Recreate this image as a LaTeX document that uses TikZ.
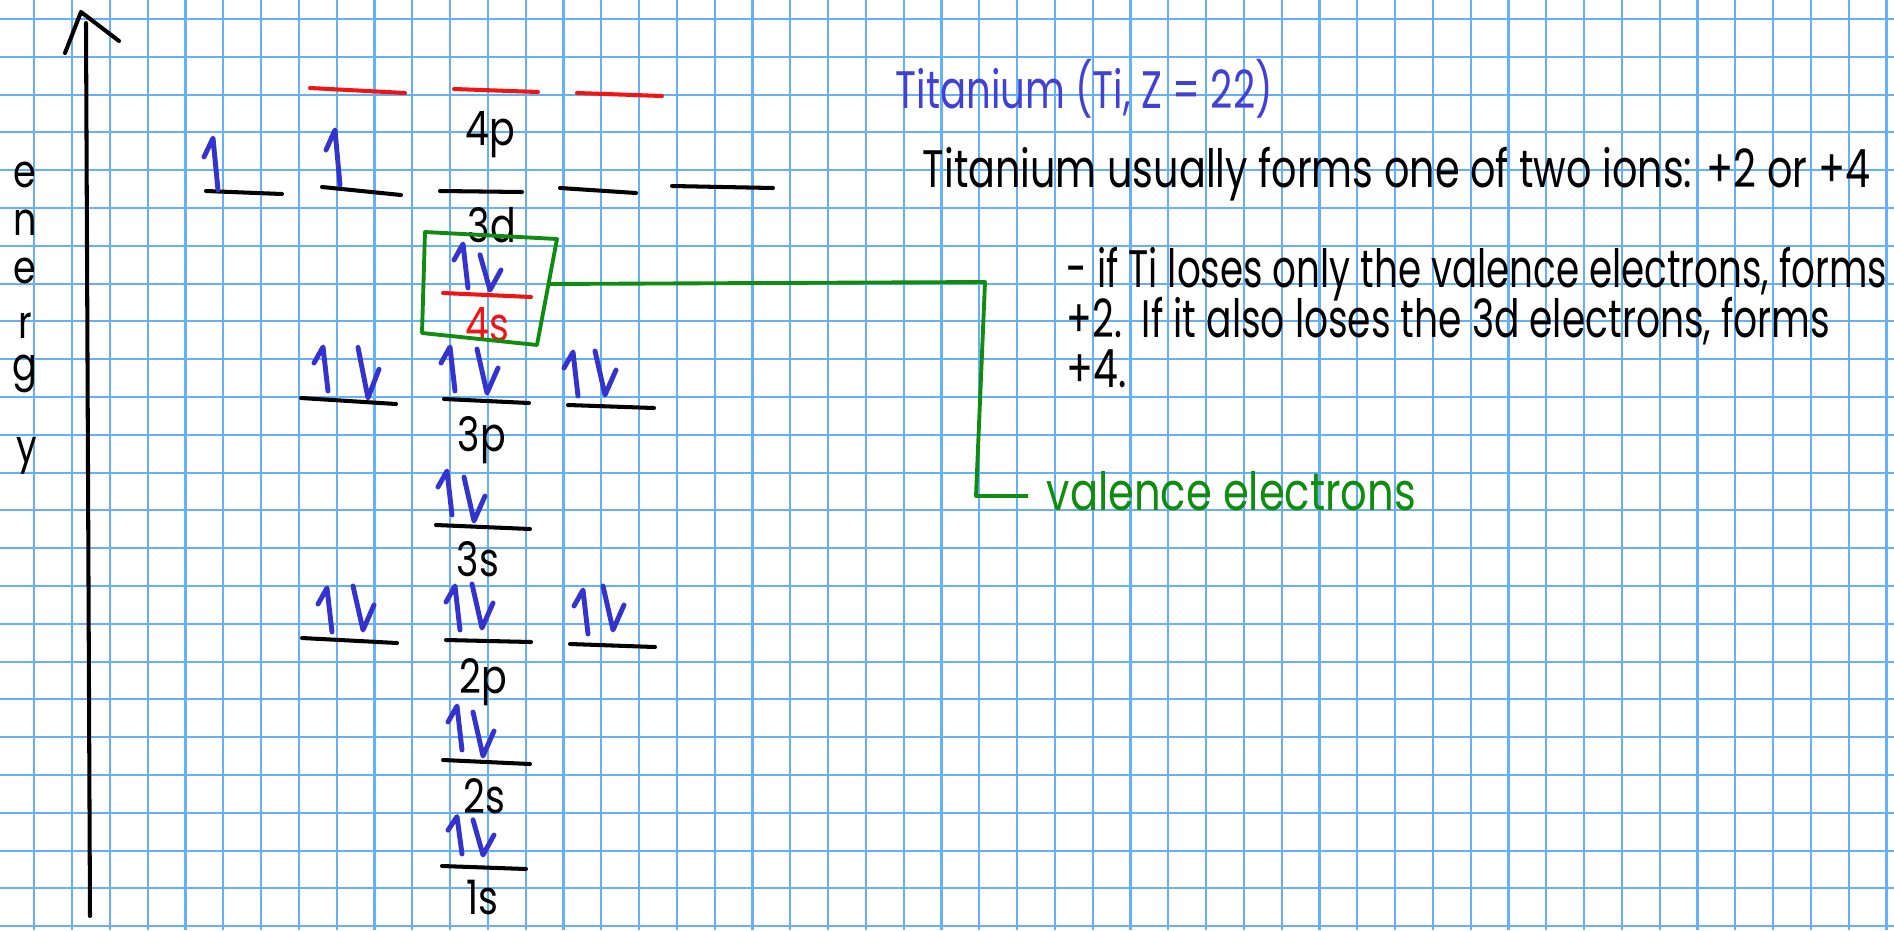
\documentclass[tikz,border=0pt]{standalone}
\usepackage{fontspec}
\setmainfont{Poppins}[FakeStretch=0.8]
\usepackage{graphicx}
\usepackage{tikz}
\usetikzlibrary{positioning}
\definecolor{gridBlue}{HTML}{66B0F8}
\definecolor{penBlue}{HTML}{3434CC}
\definecolor{titleBlue}{HTML}{4242D2}
\definecolor{penRed}{HTML}{F01414}
\definecolor{penGreen}{HTML}{108C10}
\newcommand{\spinup}[3][]{\draw[electron,shift={(#2,#3)},#1] (-14,-28) -- (-5,-44) -- (0,0);}
\newcommand{\spindown}[3][]{\draw[electron,shift={(#2,#3)},#1] (-10,-44) -- (0,0) -- (11,-25);}
\newcommand{\fitto}[2]{\resizebox{#1}{\height}{#2}}

\begin{document}
\begin{tikzpicture}[x=0.01cm, y=-0.01cm, every node/.style={inner sep=0pt, font=\fontsize{15}{17}\selectfont},
  level/.style={line width=1.15pt, line cap=round},
  electron/.style={penBlue, line width=1.4pt, line cap=round, line join=round},
  sub/.style={font=\fontsize{13.5}{15}\selectfont},
  axisletter/.style={anchor=base, font=\fontsize{13}{14}\selectfont}]
\useasboundingbox (0,0) rectangle (1894,930);
\fill[white] (0,0) rectangle (1894,930);
\foreach \k in {0,...,49} \draw[gridBlue, line width=0.6pt] ({34.3+37.8*\k},0) -- ({34.3+37.8*\k},930);
\foreach \k in {0,...,24} \draw[gridBlue, line width=0.6pt] (0,{19+37.8*\k}) -- (1894,{19+37.8*\k});

\coordinate (ebot) at (90,916);
\coordinate (etop) at (86,23);
\draw[level] (ebot) -- (etop);
\draw[level, line join=round] (65,53) -- (81,12) -- (119,41);
\node[axisletter] (e1) at (25,187) {e};
\node[axisletter] (e2) at (25,235) {n};
\node[axisletter] (e3) at (25,283) {e};
\node[axisletter] (e4) at (25,338) {r};
\node[axisletter] (e5) at (25,380) {g};
\node[axisletter] (e6) at (27,462) {y};

\draw[level, penRed] (310,88) -- (405,93);
\draw[level, penRed] (454,89) -- (538,92);
\draw[level, penRed] (577,93) -- (662,96);
\node[sub] (l4p) at (490,135) {4p};
\draw[level] (206,191) -- (282,194);
\draw[level] (322,187) -- (401,195);
\draw[level] (440,191) -- (522,192);
\draw[level] (560,188) -- (636,193);
\draw[level] (672,186) -- (773,188);
\spinup[yscale=1.18]{218}{190}
\spinup[yscale=1.25]{340}{185}
\node[sub] (l3d) at (492,225) {3d};
\draw[level, penRed] (443,293) -- (531,297);
\spinup{468}{288}
\spindown[yscale=0.8]{490}{290}
\node[sub, penRed] (l4s) at (487,325) {4s};

\draw[penGreen, line width=1.1pt, line join=round] (425,232) -- (557,239) -- (537,345) -- (422,333) -- cycle;
\coordinate (boxr) at (548,284);

\draw[level] (301,398) -- (396,404);
\draw[level] (444,399) -- (529,403);
\draw[level] (568,405) -- (654,408);
\spinup{328}{391} \spindown[yscale=1.15]{368}{398}
\spinup{455}{391} \spindown{487}{393}
\spinup{578}{396} \spindown{605}{395}
\node[sub] (l3p) at (482,440) {3p};
\draw[level] (436,525) -- (530,529);
\spinup{452}{515} \spindown{474}{521}
\node[sub] (l3s) at (478,559) {3s};
\draw[level] (302,638) -- (397,643);
\draw[level] (446,640) -- (531,642);
\draw[level] (570,644) -- (655,647);
\spinup{332}{632} \spindown{363}{630}
\spinup{460}{630} \spindown{482}{628}
\spinup{588}{634} \spindown{613}{630}
\node[sub] (l2p) at (483,682) {2p};
\draw[level] (443,760) -- (530,764);
\spinup{462}{750} \spindown{483}{756}
\node[sub] (l2s) at (484,796) {2s};
\draw[level] (442,866) -- (526,869);
\spinup[yscale=0.85]{462}{854} \spindown[yscale=0.8]{483}{855}
\node[sub] (l1s) at (482,898) {1s};

\node[anchor=base west, titleBlue] (title) at (895,108) {\fitto{3.77cm}{Titanium (Ti, Z = 22)}};
\node[anchor=base west] (ions) at (922,187) {\fitto{9.47cm}{Titanium usually forms one of two ions: +2 or +4}};
\node[anchor=base west] (note1) at (1066,287) {\fitto{8.2cm}{- if Ti loses only the valence electrons, forms}};
\node[anchor=base west] (note2) at (1066,337) {\fitto{7.63cm}{+2.\ \ If it also loses the 3d electrons, forms}};
\node[anchor=base west] (note3) at (1066,387) {\fitto{0.6cm}{+4.}};
\node[anchor=base west, inner xsep=0.18cm, penGreen] (val) at (1028,510) {\fitto{3.69cm}{valence electrons}};
\coordinate (bend) at (976,496);
\draw[penGreen, line width=1.1pt, line join=round] (boxr) -- (985,282) -- (bend) -- (bend -| val.west);
\end{tikzpicture}
\end{document}
